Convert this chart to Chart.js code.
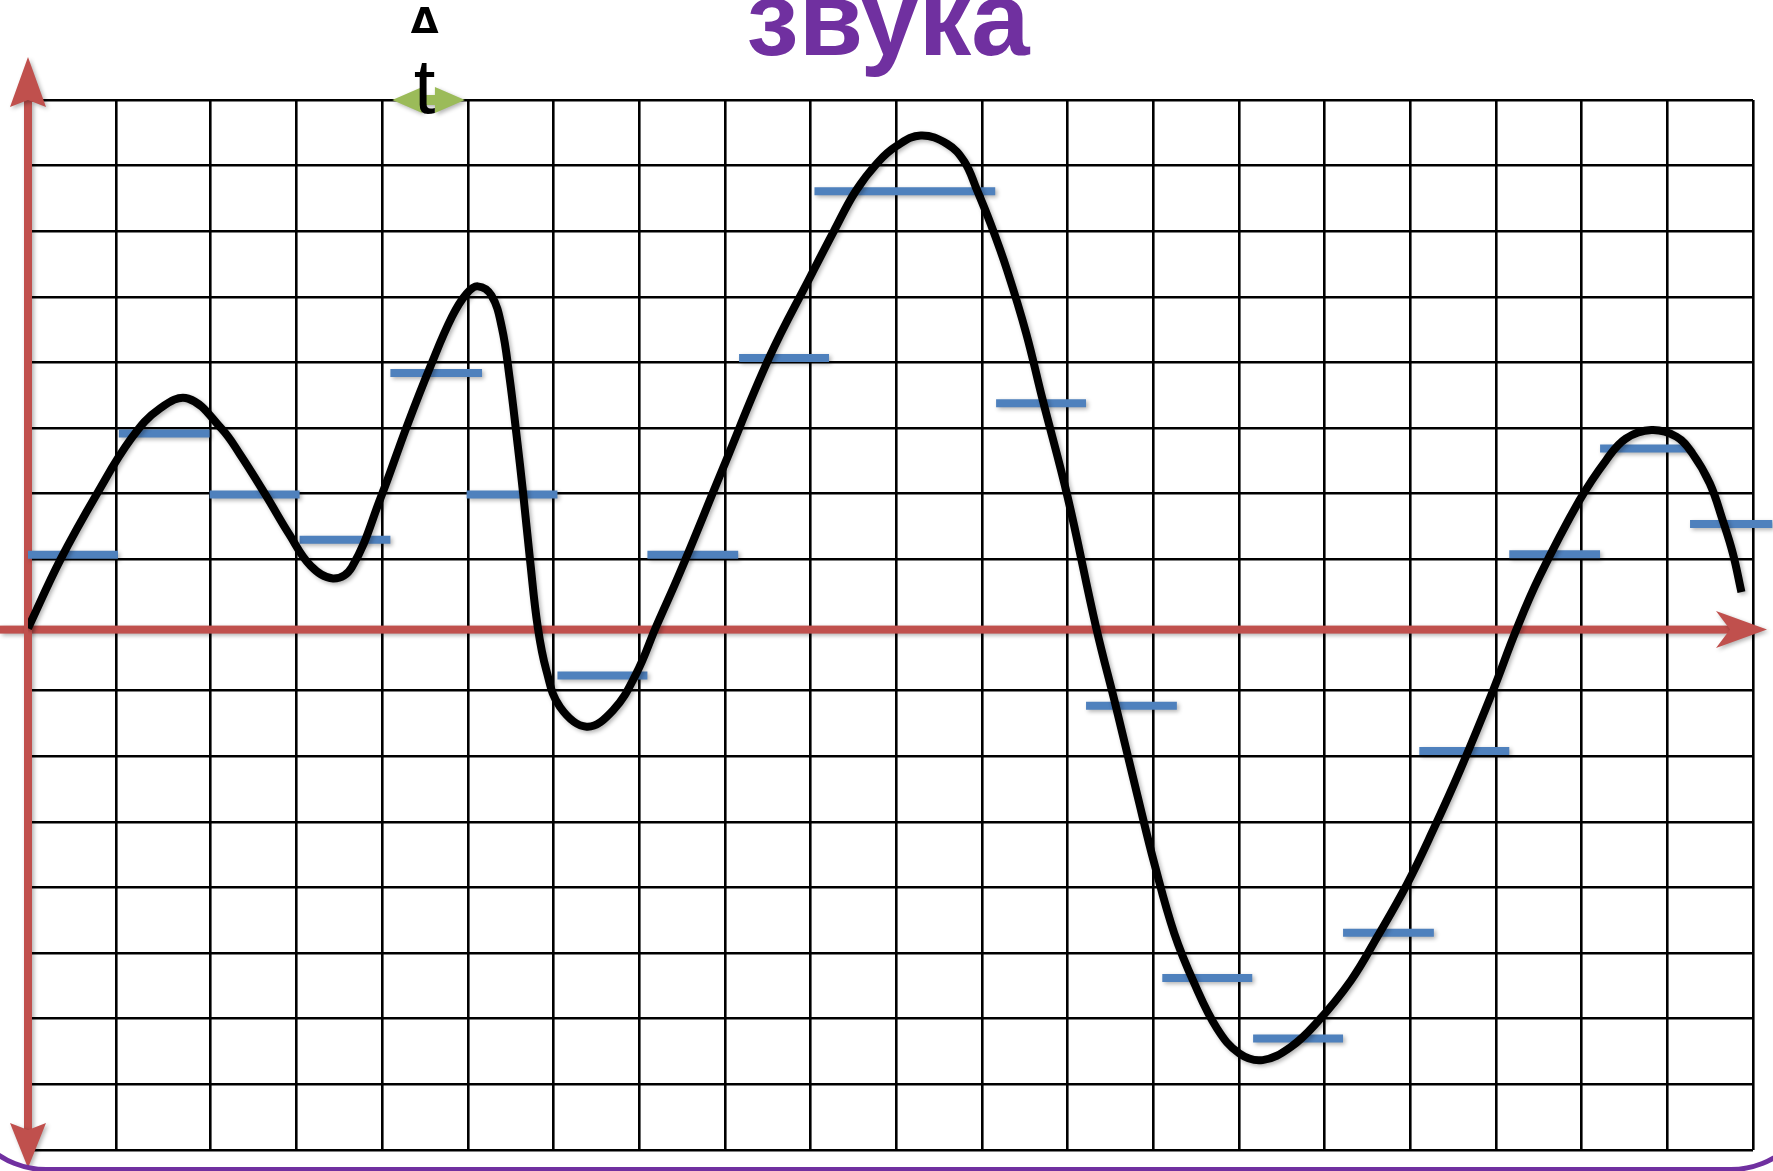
<!DOCTYPE html>
<html><head><meta charset="utf-8">
<script src="https://cdn.jsdelivr.net/npm/chart.js@4.4.1/dist/chart.umd.min.js"></script>
<style>html,body{margin:0;padding:0;background:#fff;overflow:hidden}canvas{display:block}</style>
</head><body>
<canvas id="c" width="1773" height="1171"></canvas>
<script>
// ---- text ----
const titleText = 'звука';
const deltaLabel = 'Δ';
const timeLabel = 't';

// ---- grid (time units = one sampling interval Δt, amplitude units = one grid row) ----
const gridColumns = [0, 1.035, 2.132, 3.135, 4.135, 5.135, 6.135, 7.135, 8.135, 9.135, 10.135,
  11.135, 12.135, 13.135, 14.135, 15.135, 16.135, 17.135, 18.135, 19.135, 20.135];
const gridRows = [-8, -7, -6, -5, -4, -3, -2, -1, 0, 1, 2, 3, 4, 5, 6, 7, 8];
const axisLevel = -0.07;

// ---- analog signal (black curve) ----
const curveTime = [0.00, 0.38, 0.80, 1.21, 1.54, 1.87, 2.26, 2.47, 2.77, 3.05, 3.30, 3.56, 3.78,
  4.12, 4.42, 4.70, 4.95, 5.12, 5.25, 5.41, 5.53, 5.62, 5.70, 5.78, 5.86, 5.95, 6.05, 6.21, 6.52, 6.83, 7.10, 7.33, 7.61,
  8.10, 8.65, 9.14, 9.41, 9.66, 9.92, 10.14, 10.42, 10.73, 10.93, 11.07, 11.24, 11.43, 11.65, 11.84, 12.135, 12.47,
  12.70, 12.95, 13.15, 13.38, 13.61, 13.88, 14.14, 14.41, 14.74, 15.05, 15.44, 15.75, 16.10, 16.41, 16.72,
  17.10, 17.37, 17.64, 18.11, 18.42, 18.65, 18.95, 19.24, 19.43, 19.63, 19.78, 19.90, 20.00];
const curveAmplitude = [-0.05, 1.00, 1.99, 2.85, 3.30, 3.45, 2.99, 2.61, 1.99, 1.38, 0.90, 0.71, 0.88,
  1.95, 3.02, 3.95, 4.70, 5.05, 5.16, 5.02, 4.54, 3.78, 2.92, 2.00, 0.99, -0.03, -0.69, -1.25, -1.55, -1.30, -0.74, -0.03, 0.80,
  2.35, 4.07, 5.33, 6.01, 6.61, 7.05, 7.30, 7.46, 7.33, 7.06, 6.65, 6.10, 5.40, 4.45, 3.45, 1.95, -0.05,
  -1.25, -2.60, -3.65, -4.70, -5.45, -6.15, -6.53, -6.63, -6.43, -6.05, -5.42, -4.75, -3.94, -3.10, -2.20,
  -1.00, -0.08, 0.73, 1.90, 2.51, 2.84, 2.97, 2.87, 2.61, 2.16, 1.60, 1.09, 0.50];

// ---- sampled levels (blue dashes) ----
const sampleStart = [0.00, 1.06, 2.12, 3.17, 4.23, 5.12, 6.18, 7.23, 8.30, 9.18, 10.23, 11.30, 12.35, 13.24, 14.30, 15.35, 16.24, 17.29, 18.35, 19.40];
const sampleEnd   = [1.05, 2.12, 3.17, 4.23, 5.30, 6.18, 7.23, 8.29, 9.35, 10.23, 11.29, 12.35, 13.41, 14.29, 15.35, 16.41, 17.29, 18.35, 19.40, 20.36];
const sampleValue = [1.07, 2.92, 1.99, 1.30, 3.84, 1.99, -0.77, 1.07, 4.07, 6.61, 6.61, 3.38, -1.23, -5.38, -6.30, -4.69, -1.92, 1.08, 2.69, 1.54];

const curveData = curveTime.map((t, i) => ({x: t, y: curveAmplitude[i]}));
const sampleData = [];
sampleStart.forEach((s, i) => {
  sampleData.push({x: s, y: sampleValue[i]}, {x: sampleEnd[i], y: sampleValue[i]}, {x: sampleEnd[i], y: null});
});

function shadow(ctx, blur, off, alpha) {
  ctx.shadowColor = 'rgba(0,0,0,' + alpha + ')';
  ctx.shadowBlur = blur; ctx.shadowOffsetX = off; ctx.shadowOffsetY = off;
}

const decor = {
  id: 'decor',
  beforeDatasetsDraw(chart) {
    const {ctx, chartArea: a, scales: {x, y}} = chart;
    const ax = x.getPixelForValue(0);
    const ay = y.getPixelForValue(axisLevel);
    ctx.save();
    shadow(ctx, 4, 2, 0.3);
    ctx.fillStyle = '#C0504D';
    ctx.fillRect(0, ay - 4, a.right - 23, 8);
    ctx.beginPath();
    ctx.moveTo(a.right + 14, ay);
    ctx.lineTo(a.right - 37, ay - 18.5);
    ctx.lineTo(a.right - 23, ay);
    ctx.lineTo(a.right - 37, ay + 18.5);
    ctx.closePath(); ctx.fill();
    ctx.fillRect(ax - 4, a.top, 8, a.bottom - 20 - a.top);
    ctx.beginPath();
    ctx.moveTo(ax, a.top - 43);
    ctx.lineTo(ax + 18, a.top + 7);
    ctx.lineTo(ax, a.top);
    ctx.lineTo(ax - 18, a.top + 7);
    ctx.closePath(); ctx.fill();
    ctx.beginPath();
    ctx.moveTo(ax, a.bottom + 18);
    ctx.lineTo(ax + 18, a.bottom - 27);
    ctx.lineTo(ax, a.bottom - 20);
    ctx.lineTo(ax - 18, a.bottom - 27);
    ctx.closePath(); ctx.fill();
    ctx.restore();
  },
  beforeDatasetDraw(chart) {
    chart.ctx.save();
    shadow(chart.ctx, 4, 2, 0.3);
  },
  afterDatasetDraw(chart) {
    chart.ctx.restore();
  },
  afterDatasetsDraw(chart) {
    const {ctx, chartArea: a, scales: {x}} = chart;
    const L = x.getPixelForValue(gridColumns[4]) + 10;
    const R = x.getPixelForValue(gridColumns[5]) - 3;
    const cy = a.top, hl = 30, hh = 13, sh = 5;
    ctx.save();
    shadow(ctx, 4, 2, 0.3);
    ctx.fillStyle = '#9BBB59';
    ctx.beginPath();
    ctx.moveTo(L, cy);
    ctx.lineTo(L + hl, cy - hh); ctx.lineTo(L + hl, cy - sh);
    ctx.lineTo(R - hl, cy - sh); ctx.lineTo(R - hl, cy - hh);
    ctx.lineTo(R, cy);
    ctx.lineTo(R - hl, cy + hh); ctx.lineTo(R - hl, cy + sh);
    ctx.lineTo(L + hl, cy + sh); ctx.lineTo(L + hl, cy + hh);
    ctx.closePath(); ctx.fill();
    ctx.restore();

    const cx = (L + R) / 2 - 4;
    ctx.save();
    ctx.fillStyle = '#000';
    ctx.textAlign = 'center';
    ctx.textBaseline = 'alphabetic';
    ctx.font = 'bold 36px "DejaVu Sans"';
    ctx.fillText(deltaLabel, cx, a.top - 67);
    ctx.font = '78px "Liberation Sans"';
    ctx.fillText(timeLabel, cx, a.top + 13);
    ctx.restore();
  },
  afterDraw(chart) {
    const {ctx, width, height} = chart;
    ctx.save();
    ctx.fillStyle = '#7030A0';
    ctx.textAlign = 'center';
    ctx.textBaseline = 'alphabetic';
    ctx.font = 'bold 100px "Liberation Sans"';
    const w = ctx.measureText(titleText).width;
    const size = 100 * 283 / w;
    ctx.font = 'bold ' + size.toFixed(1) + 'px "Liberation Sans"';
    ctx.fillText(titleText, 888, 55);
    ctx.restore();
    ctx.save();
    ctx.strokeStyle = '#7030A0';
    ctx.lineWidth = 5;
    const l = -39, r = width + 43, b = height - 1.5, t = 300, rad = 85;
    ctx.beginPath();
    ctx.moveTo(l, t);
    ctx.arcTo(l, b, l + rad, b, rad);
    ctx.arcTo(r, b, r, t, rad);
    ctx.lineTo(r, t);
    ctx.stroke();
    ctx.restore();
  }
};

new Chart(document.getElementById('c'), {
  type: 'line',
  data: {
    datasets: [
      {data: curveData, borderColor: '#000', borderWidth: 8, pointRadius: 0, fill: false,
       tension: 0.4, borderCapStyle: 'butt', borderJoinStyle: 'round'},
      {data: sampleData, borderColor: '#4F81BD', borderWidth: 8, pointRadius: 0, fill: false,
       tension: 0, spanGaps: false, borderCapStyle: 'butt', clip: false}
    ]
  },
  options: {
    responsive: false,
    devicePixelRatio: 1,
    animation: false,
    events: [],
    layout: {padding: {left: 28, right: 20, top: 100, bottom: 21}},
    plugins: {legend: {display: false}, tooltip: {enabled: false}, title: {display: false}},
    scales: {
      x: {
        type: 'linear', min: 0, max: 20.135,
        afterBuildTicks: s => { s.ticks = gridColumns.map(v => ({value: v})); },
        ticks: {display: false},
        grid: {color: '#000', lineWidth: 2.6, drawTicks: false},
        border: {display: false}
      },
      y: {
        type: 'linear', min: -8, max: 8,
        afterBuildTicks: s => { s.ticks = gridRows.map(v => ({value: v})); },
        ticks: {display: false},
        grid: {color: c => (c.tick && c.tick.value === 0) ? 'rgba(0,0,0,0)' : '#000', lineWidth: 2.6, drawTicks: false},
        border: {display: false}
      }
    }
  },
  plugins: [decor]
});
</script>
</body></html>
